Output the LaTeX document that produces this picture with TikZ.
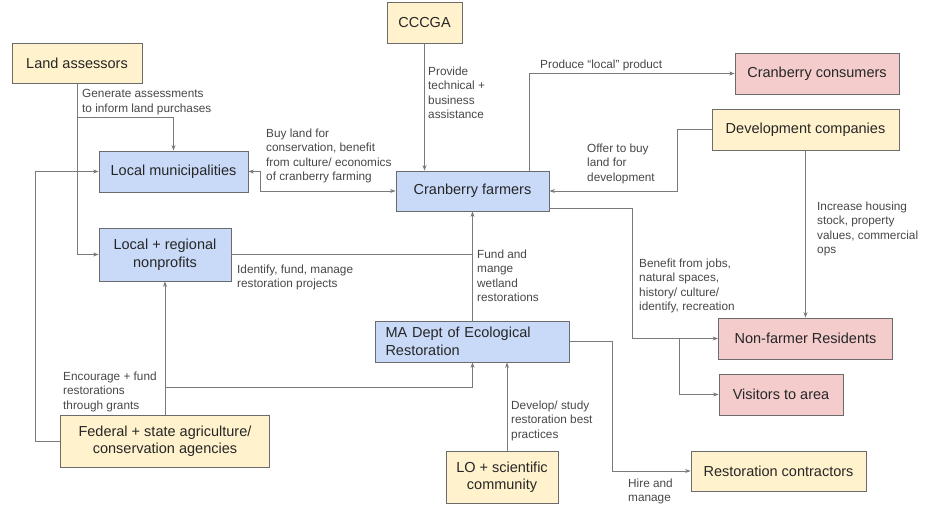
\documentclass[tikz,border=0pt]{standalone}
\usepackage{fontspec}
\setmainfont{Liberation Sans}
\usetikzlibrary{arrows.meta,positioning}

\definecolor{boxyellow}{HTML}{FFF2CC}
\definecolor{boxblue}{HTML}{C9DAF8}
\definecolor{boxpink}{HTML}{F4CCCC}
\definecolor{edgegray}{HTML}{7A7A7A}
\definecolor{framegray}{HTML}{6B6B6B}
\definecolor{inkgray}{HTML}{262626}

\begin{document}
\begin{tikzpicture}[x=1pt,y=1pt,node distance=50pt,>={Stealth[length=5.5pt,width=4pt]},
    box/.style={draw=framegray,line width=0.8pt,minimum height=41,inner sep=0,text=inkgray,align=center,font=\fontsize{14.5}{17.5}\selectfont},
    ybox/.style={box,fill=boxyellow},
    bbox/.style={box,fill=boxblue},
    pbox/.style={box,fill=boxpink},
    lbl/.style={anchor=north west,inner sep=0,align=left,text=inkgray!85,font=\fontsize{11.8}{14.4}\selectfont},
    arr/.style={->,draw=edgegray,line width=0.8pt}]

            \useasboundingbox (0,0) rectangle (925,-511);

            \node[bbox, minimum width=153, minimum height=40] (1) at (472.5,-191) {Cranberry farmers};
            \node[ybox, minimum width=75] (2) [above of=1, xshift=-48, yshift=118.5] {CCCGA};
            \node[bbox, minimum width=149] (3) [left of=1, xshift=-249, yshift=19.5] {Local municipalities};
            \node[ybox, minimum width=130, minimum height=40] (4) [above of=3, xshift=-96.5, yshift=58.5] {Land assessors};
            \node[bbox, minimum width=132, minimum height=53] (5) [below of=3, xshift=-8.5, yshift=-33] {Local + regional\\nonprofits};
            \node[ybox, minimum width=209, minimum height=52] (6) [below of=5, yshift=-136.5] {Federal + state agriculture/\\conservation agencies};
            \node[bbox, minimum width=194, text width=174, align=left] (7) [below of=1, yshift=-100.5] {MA Dept of Ecological\\Restoration};
            \node[ybox, minimum width=112, minimum height=52] (8) [below of=7, xshift=29.5, yshift=-85.5] {LO + scientific\\community};
            \node[pbox, minimum width=164] (9) [right of=1, xshift=294.5, yshift=117.5] {Cranberry consumers};
            \node[ybox, minimum width=187] (10) [below of=9, xshift=-11.5, yshift=-6] {Development companies};
            \node[pbox, minimum width=174] (11) [below of=10, yshift=-159] {Non-farmer Residents};
            \node[pbox, minimum width=124] (12) [below of=11, xshift=-24.5, yshift=-6] {Visitors to area};
            \node[ybox, minimum width=175, minimum height=40] (13) [below of=12, xshift=-2.5, yshift=-26.5] {Restoration contractors};

            \coordinate (4a) at ([yshift=-34]4.south);
            \coordinate (6a) at ([yshift=27]6.north);
            \coordinate (11a) at ([xshift=-39]11.west);

            \draw[arr] (4.south) |- (5.west);
            \draw[arr] (4a) -| (3.north);
            \draw[arr] (6.west) -- ++(-25,0) |- (3.west);
            \draw[arr] (6.north) -- (5.south);
            \draw[arr] (6a) -| (7.south);
            \draw[arr,<->] (3.east) -- ++(12,0) |- (1.west);
            \draw[arr] (2.south) -- (2.south |- 1.north);
            \draw[arr] ([xshift=56.5]1.north) |- (9.west);
            \draw[arr] (10.west) -- ++(-34,0) |- (1.east);
            \draw[arr] ([yshift=-17]1.east) -- ++(83,0) |- (11.west);
            \draw[arr] (11a) |- (12.west);
            \draw[arr] (10.south) -- (11.north);
            \draw[arr,-] (5.east) -- (5.east -| 7.north);
            \draw[arr] (7.north) -- (1.south);
            \draw[arr] ([xshift=5]8.north) -- ([xshift=5]8.north |- 7.south);
            \draw[arr] (7.east) -- ++(42,0) |- (13.west);

            \node[lbl] (l1) at (82,-89.5) {Generate assessments\\to inform land purchases};
            \node[lbl] (l2) at (266,-128.5) {Buy land for\\conservation, benefit\\from culture/ economics\\of cranberry farming};
            \node[lbl] (l3) at (428,-66.5) {Provide\\technical +\\business\\assistance};
            \node[lbl] (l4) at (540,-59.5) {Produce “local” product};
            \node[lbl] (l5) at (587,-143.5) {Offer to buy\\land for\\development};
            \node[lbl] (l6) at (817,-201.5) {Increase housing\\stock, property\\values, commercial\\ops};
            \node[lbl] (l7) at (639,-258.5) {Benefit from jobs,\\natural spaces,\\history/ culture/\\identify, recreation};
            \node[lbl] (l8) at (237,-264.5) {Identify, fund, manage\\restoration projects};
            \node[lbl] (l9) at (477,-249.5) {Fund and\\mange\\wetland\\restorations};
            \node[lbl] (l10) at (63,-371.5) {Encourage + fund\\restorations\\through grants};
            \node[lbl] (l11) at (511,-400.5) {Develop/ study\\restoration best\\practices};
            \node[lbl] (l12) at (628,-478.5) {Hire and\\manage};
        \end{tikzpicture}
\end{document}
